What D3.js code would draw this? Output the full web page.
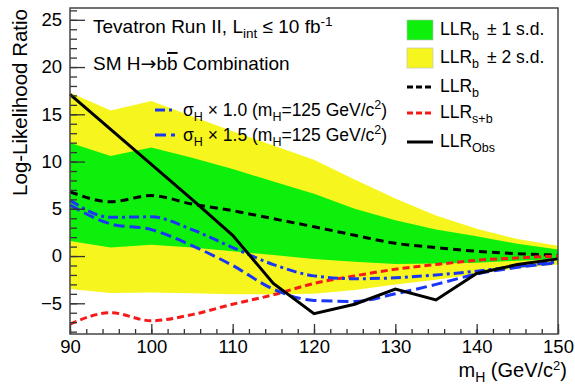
<!DOCTYPE html>
<html>
<head>
<meta charset="utf-8">
<script src="https://d3js.org/d3.v7.min.js"></script>
<style>
  body { margin: 0; background: #fff; }
  svg text { font-family: "Liberation Sans", Arial, sans-serif; fill: #000; }
</style>
</head>
<body>
<div id="chart"></div>
<script>
// Higgs mass points (GeV/c^2)
var masses = [90, 95, 100, 105, 110, 115, 120, 125, 130, 135, 140, 145, 150];

// LLR values
var llrObs  = [17.1, 13.4, 9.7, 6.0, 2.2, -2.9, -6.1, -5.1, -3.5, -4.65, -1.85, -0.9, -0.3];
var llrB    = [6.8, 5.75, 6.4, 5.5, 4.8, 3.95, 3.1, 2.2, 1.35, 0.9, 0.5, 0.25, 0.1];
var llrSB   = [-7.2, -6.0, -6.85, -6.2, -5.1, -4.1, -2.9, -2.1, -1.4, -0.9, -0.45, -0.2, 0.0];
var sig10   = [5.9, 4.1, 4.15, 2.8, 0.9, -0.9, -2.1, -2.4, -2.3, -2.0, -1.6, -1.1, -0.6];
var sig15   = [5.4, 3.4, 2.8, 1.1, -1.0, -3.5, -4.7, -4.8, -4.0, -3.0, -1.9, -1.2, -0.7];

// expectation bands
var band1Up = [12.0, 10.6, 11.5, 10.4, 9.2, 7.9, 6.6, 5.0, 3.8, 2.8, 2.1, 1.3, 0.7];
var band1Dn = [1.6, 0.9, 1.2, 0.9, 0.5, 0.1, -0.3, -0.6, -0.85, -0.8, -0.7, -0.5, -0.3];
var band2Up = [17.3, 15.4, 16.4, 14.8, 13.2, 11.7, 10.2, 8.1, 6.1, 4.3, 2.9, 1.8, 1.1];
var band2Dn = [-3.5, -3.9, -3.85, -3.95, -4.05, -4.05, -4.0, -3.6, -3.0, -2.5, -1.9, -1.3, -0.9];

var xMajor = [90, 100, 110, 120, 130, 140, 150];
var yMajor = [-5, 0, 5, 10, 15, 20, 25];

var W = 575, H = 386;
var padL = 70, padT = 8, padR = 558, padB = 334;

var green = "#0cf00c", yellow = "#f6f61e", blue = "#1a36f5", red = "#f51a1a";

var svg = d3.select("#chart").append("svg")
  .attr("width", W)
  .attr("height", H);

var x = d3.scaleLinear().domain([90, 150]).range([padL, padR]);
var y = d3.scaleLinear().domain([-8.25, 26.25]).range([padB, padT]);

function pts(vals){
  return masses.map(function(m, i){ return [m, vals[i]]; });
}

// bands
var area = d3.area()
  .x(function(d){ return x(d[0]); })
  .y0(function(d){ return y(d[1]); })
  .y1(function(d){ return y(d[2]); });

svg.append("path")
  .attr("d", area(masses.map(function(m, i){ return [m, band2Dn[i], band2Up[i]]; })))
  .style("fill", yellow);
svg.append("path")
  .attr("d", area(masses.map(function(m, i){ return [m, band1Dn[i], band1Up[i]]; })))
  .style("fill", green);

var smooth = d3.line()
  .x(function(d){ return x(d[0]); })
  .y(function(d){ return y(d[1]); })
  .curve(d3.curveMonotoneX);
var straight = d3.line()
  .x(function(d){ return x(d[0]); })
  .y(function(d){ return y(d[1]); });

var curves = [
  {vals: llrB,  color: "#000", dash: "8,5",        gen: smooth},
  {vals: llrSB, color: red,    dash: "7,4",        gen: smooth},
  {vals: sig10, color: blue,   dash: "10,4,3,4",   gen: smooth},
  {vals: sig15, color: blue,   dash: "11,5",       gen: smooth},
  {vals: llrObs, color: "#000", dash: null,        gen: straight}
];

curves.forEach(function(c){
  svg.append("path")
    .attr("d", c.gen(pts(c.vals)))
    .style("fill", "none")
    .style("stroke", c.color)
    .style("stroke-width", 3)
    .style("stroke-dasharray", c.dash);
});

// axes, ticks pointing into the frame
var xMinor = d3.range(90, 151, 2);
var yMinor = d3.range(-8, 27, 1);

svg.append("g")
  .attr("transform", "translate(0," + padB + ")")
  .call(d3.axisBottom(x).tickValues(xMinor).tickSize(-5).tickFormat(""))
  .call(function(g){ g.select(".domain").remove(); });
svg.append("g")
  .attr("class", "xaxis")
  .attr("transform", "translate(0," + padB + ")")
  .call(d3.axisBottom(x).tickValues(xMajor).tickSize(-10).tickPadding(6).tickFormat(d3.format("d")))
  .call(function(g){ g.select(".domain").remove(); });

svg.append("g")
  .attr("transform", "translate(" + padL + ",0)")
  .call(d3.axisLeft(y).tickValues(yMinor).tickSize(-7).tickFormat(""))
  .call(function(g){ g.select(".domain").remove(); });
svg.append("g")
  .attr("class", "yaxis")
  .attr("transform", "translate(" + padL + ",0)")
  .call(d3.axisLeft(y).tickValues(yMajor).tickSize(-15).tickPadding(8).tickFormat(d3.format("d")))
  .call(function(g){ g.select(".domain").remove(); });

svg.selectAll(".tick line").style("stroke", "#333").style("stroke-width", 1.3);
svg.selectAll(".xaxis text, .yaxis text")
  .style("font-size", "18.5px")
  .style("font-family", "Liberation Sans, Arial, sans-serif");

// frame
svg.append("rect")
  .attr("x", padL)
  .attr("y", padT)
  .attr("width", padR - padL)
  .attr("height", padB - padT)
  .style("fill", "none")
  .style("stroke", "#444")
  .style("stroke-width", 1.5);

// axis titles
svg.append("text")
  .attr("transform", "translate(27," + (padT + 1) + ") rotate(-90)")
  .attr("text-anchor", "end")
  .style("font-size", "20.5px")
  .text("Log-Likelihood Ratio");

var xt = svg.append("text")
  .attr("x", 567)
  .attr("y", 377)
  .attr("text-anchor", "end")
  .style("font-size", "20px");
xt.append("tspan").text("m");
xt.append("tspan").attr("dy", 5).style("font-size", "14px").text("H");
xt.append("tspan").attr("dy", -5).text(" (GeV/c");
xt.append("tspan").attr("dy", -7).style("font-size", "13px").text("2");
xt.append("tspan").attr("dy", 7).text(")");

// header
var t1 = svg.append("text")
  .attr("x", 93)
  .attr("y", 33)
  .style("font-size", "19px");
t1.append("tspan").text("Tevatron Run II, L");
t1.append("tspan").attr("dy", 5).style("font-size", "13.5px").text("int");
t1.append("tspan").attr("dy", -5).text(" \u2264 10 fb");
t1.append("tspan").attr("dy", -7).style("font-size", "13.5px").text("-1");

var t2 = svg.append("text")
  .attr("x", 93)
  .attr("y", 70)
  .style("font-size", "19px");
t2.append("tspan").text("SM H");
t2.append("tspan").style("font-family", "DejaVu Sans").text("\u2192");
t2.append("tspan").text("b");
t2.append("tspan").style("text-decoration", "overline").text("b");
t2.append("tspan").text(" Combination");

// left legend (signal injections)
var sigLegend = [
  {label: "1.0", color: blue, dash: "10,4,3,4", y: 110},
  {label: "1.5", color: blue, dash: "11,5", y: 135}
];
sigLegend.forEach(function(d){
  svg.append("line")
    .attr("x1", 155).attr("x2", 175)
    .attr("y1", d.y).attr("y2", d.y)
    .style("stroke", d.color)
    .style("stroke-width", 3)
    .style("stroke-dasharray", d.dash);
  var t = svg.append("text")
    .attr("x", 183)
    .attr("y", d.y + 6)
    .style("font-size", "17.5px");
  t.append("tspan").text("\u03c3");
  t.append("tspan").attr("dy", 5).style("font-size", "12.5px").text("H");
  t.append("tspan").attr("dy", -5).text(" \u00d7 " + d.label + " (m");
  t.append("tspan").attr("dy", 5).style("font-size", "12.5px").text("H");
  t.append("tspan").attr("dy", -5).text("=125 GeV/c");
  t.append("tspan").attr("dy", -7).style("font-size", "12.5px").text("2");
  t.append("tspan").attr("dy", 7).text(")");
});

// right legend
var legBoxes = [
  {fill: green,  sd: "1", y: 30},
  {fill: yellow, sd: "2", y: 58}
];
legBoxes.forEach(function(d){
  svg.append("rect")
    .attr("x", 407).attr("y", d.y - 10)
    .attr("width", 26).attr("height", 20)
    .style("fill", d.fill)
    .style("stroke", "#bbb")
    .style("stroke-width", 0.6);
  var t = svg.append("text")
    .attr("x", 440)
    .attr("y", d.y + 5)
    .style("font-size", "17.5px");
  t.append("tspan").text("LLR");
  t.append("tspan").attr("dy", 5).style("font-size", "12.5px").text("b");
  t.append("tspan").attr("dy", -5).attr("dx", 8).text("\u00b1 " + d.sd + " s.d.");
});

var legLines = [
  {sub: "b",   color: "#000", dash: "6,3", y: 87},
  {sub: "s+b", color: red,    dash: "6,3", y: 113},
  {sub: "Obs", color: "#000", dash: null,  y: 142}
];
legLines.forEach(function(d){
  svg.append("line")
    .attr("x1", 407).attr("x2", 433)
    .attr("y1", d.y).attr("y2", d.y)
    .style("stroke", d.color)
    .style("stroke-width", 3)
    .style("stroke-dasharray", d.dash);
  var t = svg.append("text")
    .attr("x", 440)
    .attr("y", d.y + 5)
    .style("font-size", "17.5px");
  t.append("tspan").text("LLR");
  t.append("tspan").attr("dy", 5).style("font-size", "12.5px").text(d.sub);
});
</script>
</body>
</html>
